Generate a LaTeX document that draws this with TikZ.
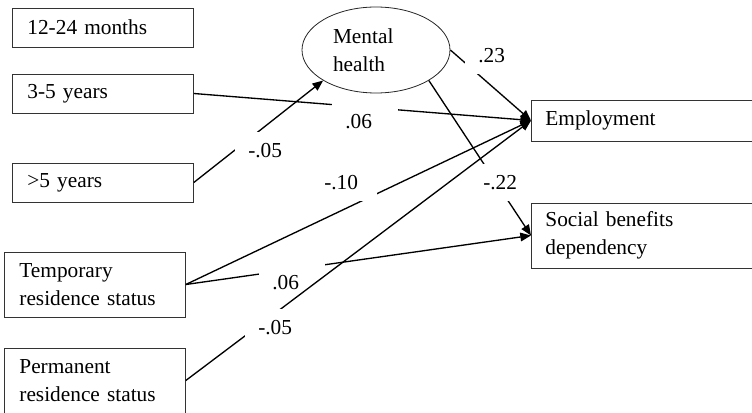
\documentclass[tikz,border=0pt]{standalone}
\usepackage{fontspec}
\setmainfont{Liberation Serif}
\usetikzlibrary{arrows.meta, shapes.geometric}

\begin{document}
\begin{tikzpicture}[
    x=0.75pt, y=-0.75pt,   % one unit = one pixel of the figure, y downwards
    font=\fontsize{16}{21}\selectfont,
    predictor/.style={draw=black!80, line width=0.6pt, anchor=west,
                      text width=113.25pt, inner xsep=11.25pt, align=left,
                      minimum height=29.25pt},
    outcome/.style={draw=black!80, line width=0.6pt, anchor=west,
                    text width=147pt, inner xsep=10.5pt, align=left},
    latent/.style={draw=black!85, ellipse, line width=0.6pt,
                   minimum width=111pt, minimum height=64.5pt, inner sep=0pt,
                   text width=64.5pt, align=left},
    link/.style={line width=1pt, -{Triangle[length=8pt, width=6.5pt]}},
    coef/.style={fill=white, anchor=north west, text width=30pt,
                 inner xsep=9.75pt, inner ysep=8.25pt, align=left},
]

\useasboundingbox (0,0) rectangle (752,413);

% =====================================================================
%  LEFT — predictors
% =====================================================================
\node[predictor] (m1224) at (12,27.5)  {12-24 months};
\node[predictor] (y35)   at (12,93.5)  {3-5 years};
\node[predictor] (y5)    at (12,182.5) {>5 years};
\node[predictor, minimum height=48.75pt] (temp) at (4,284.5)
    {Temporary\\residence status};
\node[predictor, minimum height=48.75pt] (perm) at (4,380.5)
    {Permanent\\residence status};

% =====================================================================
%  MIDDLE / RIGHT — mediator and outcomes
% =====================================================================
\node[latent] (mh) at (376,50) {Mental\\health};

\node[outcome, minimum height=30.75pt] (emp) at (531,120.5) {Employment};
\node[outcome, minimum height=48.75pt] (soc) at (531,235.5)
    {Social benefits\\dependency};

% --- Paths ---
\draw[link] (y35.east)  -- (emp.west);
\draw[link] (y5.east)   -- (mh.210);
\draw[link] (mh.east)   -- (emp.west);
\draw[link] (mh.330)    -- (soc.west);
\draw[link] (temp.east) -- (emp.west);
\draw[link] (temp.east) -- (soc.west);

% --- Coefficients (white boxes break the lines) ---
\node[coef] (c35emp)  at (332,103) {.06};
\node[coef] (c5mh)    at (235,132) {-.05};
\node[coef] (cmhemp)  at (465,37)  {.23};
\node[coef] (cmhsoc)  at (470,164) {-.22};
\node[coef] (ctmpemp) at (311,164) {-.10};
\node[coef] (ctmpsoc) at (259,264) {.06};

% permanent status drawn last, over the boxes above
\draw[link] (perm.east) -- (emp.west);
\node[coef] (cpermemp) at (245,309) {-.05};

\end{tikzpicture}
\end{document}
